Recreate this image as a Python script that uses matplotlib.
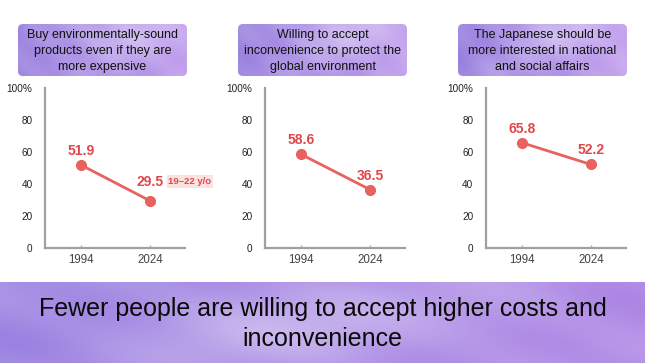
import numpy as np
import matplotlib
matplotlib.use("Agg")
import matplotlib.pyplot as plt
from matplotlib.patches import FancyBboxPatch
from matplotlib.colors import to_rgb

plt.rcParams['font.family'] = ['Liberation Sans', 'DejaVu Sans']

# ---- data ----
years = ["1994", "2024"]
titles = [
    "Buy environmentally-sound\nproducts even if they are\nmore expensive",
    "Willing to accept\ninconvenience to protect the\nglobal environment",
    "The Japanese should be\nmore interested in national\nand social affairs",
]
values_env_products = [51.9, 29.5]
values_inconvenience = [58.6, 36.5]
values_social_affairs = [65.8, 52.2]
series = [values_env_products, values_inconvenience, values_social_affairs]
yticks = [0, 20, 40, 60, 80, 100]
ytick_labels = ["0", "20", "40", "60", "80", "100%"]
age_note = "19\u201322 y/o"
headline = "Fewer people are willing to accept higher costs and\ninconvenience"

W, H = 645, 363
fig = plt.figure(figsize=(W / 100, H / 100), dpi=100)
fig.patch.set_facecolor("white")

bg = fig.add_axes([0, 0, 1, 1])
bg.set_xlim(0, W)
bg.set_ylim(H, 0)
bg.axis("off")


def wash(nx, ny, c_left, c_right, blobs, phase):
    x = np.linspace(0, 1, nx)
    y = np.linspace(0, 1, ny)
    X, Y = np.meshgrid(x, y)
    cl = np.array(to_rgb(c_left))
    cr = np.array(to_rgb(c_right))
    img = cl[None, None, :] * (1 - X[..., None]) + cr[None, None, :] * X[..., None]
    light = np.zeros_like(X)
    for (bx, by, rx, ry, amt) in blobs:
        light += amt * np.exp(-(((X - bx) / rx) ** 2 + ((Y - by) / ry) ** 2))
    light += 0.05 * np.sin(9 * X + 4 * Y + phase) + 0.04 * np.sin(23 * X - 7 * Y + 2 * phase)
    light = np.clip(light, -0.1, 0.6)
    img = img + (1 - img) * light[..., None]
    return np.clip(img, 0, 1)


def textured_box(x0, y0, w, h, rad, img):
    patch = FancyBboxPatch((x0, y0), w, h,
                           boxstyle=f"round,pad=0,rounding_size={rad}",
                           linewidth=0, facecolor="none")
    bg.add_patch(patch)
    im = bg.imshow(img, aspect="auto", extent=(x0, x0 + w, y0 + h, y0),
                   interpolation="bicubic", zorder=0)
    im.set_clip_path(patch)
    return patch


box_lefts = [18, 238, 458]
for i, bx in enumerate(box_lefts):
    img = wash(200, 70, "#9c84df", "#c4a3ee",
               [(0.6, 0.2, 0.35, 0.5, 0.30), (0.15, 0.9, 0.2, 0.3, 0.10)],
               0.8 * i)
    textured_box(bx, 24, 169, 52, 5, img)
    bg.text(bx + 84.5, 51, titles[i], ha="center", va="center",
            fontsize=9.0, color="#111111", linespacing=1.42, zorder=3)

# bottom band
band = wash(400, 60, "#a28be3", "#b28de6",
            [(0.45, 0.55, 0.25, 0.6, 0.30), (0.8, 0.3, 0.15, 0.5, 0.10)], 1.5)
textured_box(0, 282, W, 81, 0.1, band)
bg.text(W / 2, 324, headline, ha="center", va="center",
        fontsize=18, color="#0a0a0a", linespacing=1.33, zorder=3)

axes_lefts = [45, 265, 486]
ax_w, ax_top, ax_bot = 140, 88, 248
line_color = "#e8625e"
label_color = "#e0474a"

for i, (axl, vals) in enumerate(zip(axes_lefts, series)):
    ax = fig.add_axes([axl / W, (H - ax_bot) / H, ax_w / W,
                       (ax_bot - ax_top) / H])
    ax.patch.set_alpha(0)
    xs = np.arange(len(years))
    ax.plot(xs, vals, color=line_color, lw=2, marker="o", ms=7,
            mfc=line_color, mec=line_color, clip_on=False)
    for x, v in zip(xs, vals):
        off = 19 if (i == 0 and x == 1) else 14
        ax.annotate(f"{v:.1f}", (x, v), xytext=(0, off),
                    textcoords="offset pixels", ha="center", va="center",
                    fontsize=10, fontweight="bold", color=label_color)
    if i == 0:
        ax.annotate(age_note, (1, vals[1]), xytext=(40, 19),
                    textcoords="offset pixels", ha="center", va="center",
                    fontsize=6.8, fontweight="bold", color=label_color,
                    bbox=dict(boxstyle="square,pad=0.2", fc="#fde1e1",
                              ec="none"))
    ax.set_xlim(-0.52, 1.507)
    ax.set_ylim(0, 100)
    ax.set_xticks(xs)
    ax.set_xticklabels(years, fontsize=8.3, color="#444444")
    ax.set_yticks(yticks)
    ax.set_yticklabels(ytick_labels, fontsize=7.2, color="#222222")
    ax.tick_params(axis="y", length=0, pad=9)
    ax.tick_params(axis="x", direction="in", length=2, width=1,
                   color="#aaaaaa", pad=4)
    for s in ["top", "right"]:
        ax.spines[s].set_visible(False)
    for s in ["left", "bottom"]:
        ax.spines[s].set_color("#a0a0a0")
        ax.spines[s].set_linewidth(1.6)

fig.savefig("out.png", dpi=100)
